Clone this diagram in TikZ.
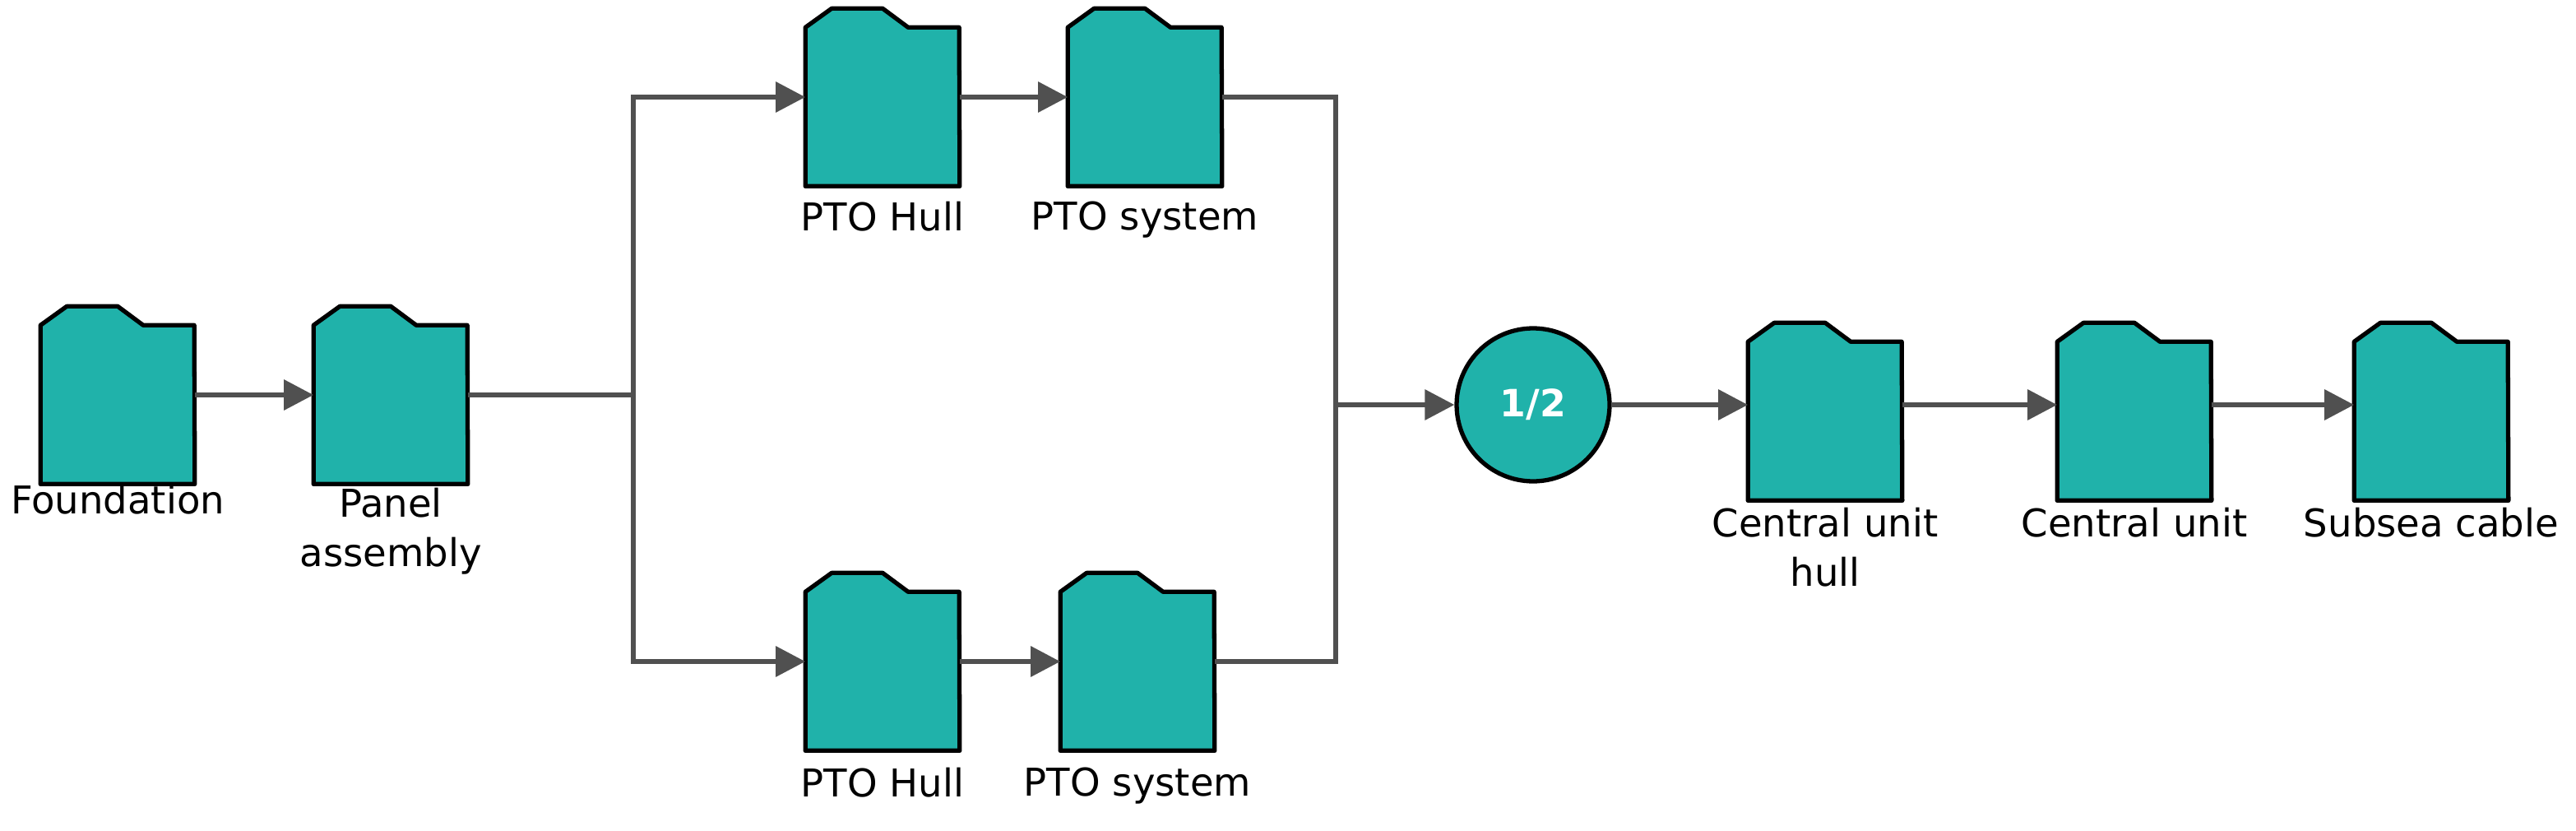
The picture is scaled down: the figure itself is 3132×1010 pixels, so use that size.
\documentclass[tikz,border=0pt]{standalone}
\usepackage{fontspec}
\setmainfont{DejaVu Sans}
\usetikzlibrary{arrows.meta}
\definecolor{teal1}{HTML}{20B2AA}
\definecolor{conn}{HTML}{505050}
\begin{document}
\begin{tikzpicture}[x=0.02cm,y=-0.02cm,
  fold/.style={minimum width=3.74cm,minimum height=4.32cm,inner sep=0,draw=none},
  foldshape/.style={fill=teal1,draw=black,line width=3pt,line join=round},
  lab/.style={font=\fontsize{26.5}{34}\selectfont,align=center,anchor=north,inner sep=0},
  arr/.style={draw=conn,line width=3.6pt,-{Triangle[length=0.72cm,width=0.72cm]}},
  ln/.style={draw=conn,line width=3.6pt}]
\useasboundingbox (0,0) rectangle (3132,1010);
\node[fold] (f) at (143,480) {};
\node[fold] (p) at (475,480) {};
\node[fold] (h1) at (1073,118) {};
\node[fold] (s1) at (1392,118) {};
\node[fold] (h2) at (1073,804) {};
\node[fold] (s2) at (1383,804) {};
\node[fold] (cuh) at (2219,500) {};
\node[fold] (cu) at (2595,500) {};
\node[fold] (sc) at (2956,500) {};
\foreach \n in {f,p,h1,s1,h2,s2,cuh,cu,sc}
  \draw[foldshape] (\n.south west) -- ++(0,-193) -- ++(32,-23) -- ++(62,0) -- ++(31,23) -- ++(62,0) -- (\n.south east) -- cycle;
\node[circle,fill=teal1,draw=black,line width=3pt,minimum size=3.72cm,inner sep=0,text=white,font=\fontsize{26}{30}\selectfont\bfseries] (c) at (1864,492) {1/2};
\node[lab] at (143,589) {Foundation};
\node[lab] at (475,593) {Panel\\assembly};
\node[lab] at (1073,245) {PTO Hull};
\node[lab] at (1392,245) {PTO system};
\node[lab] at (1073,933) {PTO Hull};
\node[lab] at (1383,933) {PTO system};
\node[lab] at (2219,617) {Central unit\\hull};
\node[lab] at (2595,617) {Central unit};
\node[lab] at (2956,617) {Subsea cable};
\coordinate (b) at (770,480);
\coordinate (m) at (1624,492);
\draw[arr] (f.east) -- (p.west);
\draw[ln] (p.east) -- (b);
\draw[arr] (b) |- (h1.west);
\draw[arr] (b) |- (h2.west);
\draw[arr] (h1.east) -- (s1.west);
\draw[arr] (h2.east) -- (s2.west);
\draw[ln] (s1.east) -| (m);
\draw[ln] (s2.east) -| (m);
\draw[arr] (m) -- (c.west);
\draw[arr] (c.east) -- (cuh.west |- c.east);
\draw[arr] (cuh.east |- c.east) -- (cu.west |- c.east);
\draw[arr] (cu.east |- c.east) -- (sc.west |- c.east);
\end{tikzpicture}
\end{document}
